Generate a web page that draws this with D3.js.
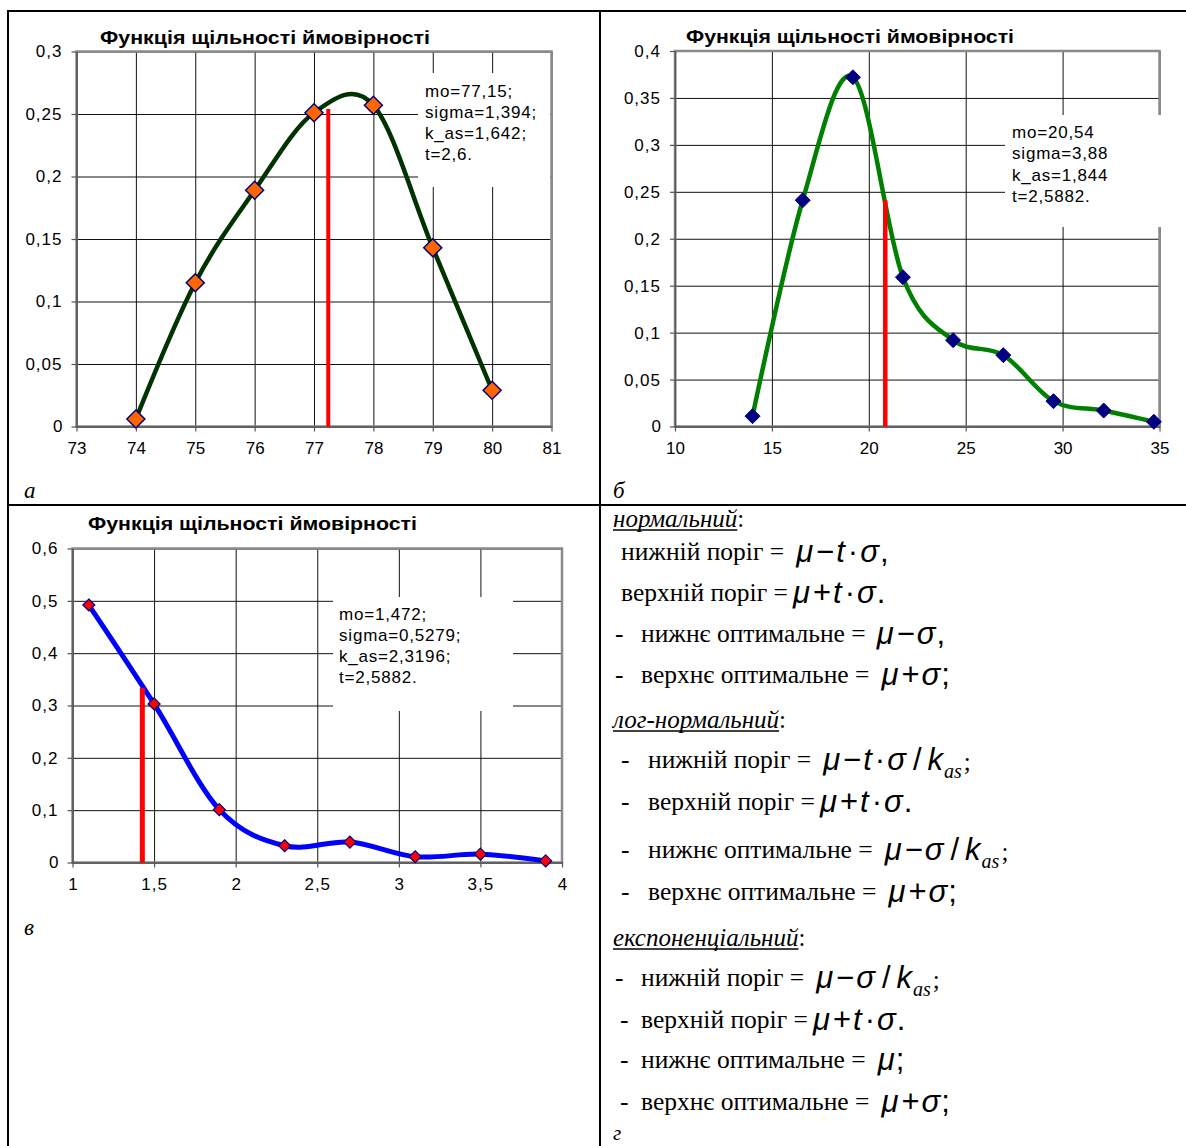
<!DOCTYPE html>
<html><head><meta charset="utf-8">
<script src="https://cdn.jsdelivr.net/npm/d3@7"></script>
<style>
html,body{margin:0;padding:0;background:#fff;}
svg{display:block;}
</style></head><body>
<svg id="c" width="1186" height="1146"></svg>
<script>
// ---------- DATA ----------
const chartTitle = "Функція щільності ймовірності";

// chart а
const aX = [74, 75, 76, 77, 78, 79, 80];
const aY = [0.006, 0.115, 0.189, 0.251, 0.257, 0.143, 0.029];
const aXTicks = [73, 74, 75, 76, 77, 78, 79, 80, 81];
const aYTicks = [0, 0.05, 0.1, 0.15, 0.2, 0.25, 0.3];
const aNote = ["mo=77,15;", "sigma=1,394;", "k_as=1,642;", "t=2,6."];
const aThreshold = {x: 77.24, top: 0.254};

// chart б
const bX = [14.0, 16.59, 19.18, 21.76, 24.35, 26.94, 29.53, 32.12, 34.71];
const bY = [0.011, 0.241, 0.372, 0.159, 0.092, 0.076, 0.027, 0.017, 0.005];
const bXTicks = [10, 15, 20, 25, 30, 35];
const bYTicks = [0, 0.05, 0.1, 0.15, 0.2, 0.25, 0.3, 0.35, 0.4];
const bNote = ["mo=20,54", "sigma=3,88", "k_as=1,844", "t=2,5882."];
const bThreshold = {x: 20.85, top: 0.241};

// chart в
const cX = [1.1, 1.5, 1.9, 2.3, 2.7, 3.1, 3.5, 3.9];
const cY = [0.492, 0.303, 0.101, 0.032, 0.039, 0.011, 0.016, 0.003];
const cXTicks = [1, 1.5, 2, 2.5, 3, 3.5, 4];
const cYTicks = [0, 0.1, 0.2, 0.3, 0.4, 0.5, 0.6];
const cNote = ["mo=1,472;", "sigma=0,5279;", "k_as=2,3196;", "t=2,5882."];
const cThreshold = {x: 1.428, top: 0.334};

const panelLetters = ["а", "б", "в", "г"];

// panel г text
const sectionHeads = ["нормальний", "лог-нормальний", "експоненціальний"];
const ruleLabels = [
  ["нижній поріг =", "верхній поріг =", "нижнє оптимальне =", "верхнє оптимальне ="],
  ["нижній поріг =", "верхній поріг =", "нижнє оптимальне =", "верхнє оптимальне ="],
  ["нижній поріг =", "верхній поріг =", "нижнє оптимальне =", "верхнє оптимальне ="]
];
// formula tokens: [text, kind]  kind: i = italic var, o = operator, d = divide, s = subscript, p/q = punctuation
const ruleFormulas = [
  [
    [["μ","i"],["−","o"],["t","i"],["·","o"],["σ","i"],[",","p"]],
    [["μ","i"],["+","o"],["t","i"],["·","o"],["σ","i"],[".","p"]],
    [["μ","i"],["−","o"],["σ","i"],[",","p"]],
    [["μ","i"],["+","o"],["σ","i"],[";","p"]]
  ],
  [
    [["μ","i"],["−","o"],["t","i"],["·","o"],["σ","i"],["/","d"],["k","k"],["as","s"],[";","q"]],
    [["μ","i"],["+","o"],["t","i"],["·","o"],["σ","i"],[".","p"]],
    [["μ","i"],["−","o"],["σ","i"],["/","d"],["k","k"],["as","s"],[";","q"]],
    [["μ","i"],["+","o"],["σ","i"],[";","p"]]
  ],
  [
    [["μ","i"],["−","o"],["σ","i"],["/","d"],["k","k"],["as","s"],[";","q"]],
    [["μ","i"],["+","o"],["t","i"],["·","o"],["σ","i"],[".","p"]],
    [["μ","i"],[";","p"]],
    [["μ","i"],["+","o"],["σ","i"],[";","p"]]
  ]
];

// ---------- LAYOUT / STYLE ----------
const SANS = "'Liberation Sans', Arial, sans-serif";
const SERIF = "'Liberation Serif', 'Times New Roman', serif";
const svg = d3.select("#c");
const fmt = v => String(Math.round(v * 10000) / 10000).replace(".", ",");

// table lines
const tbl = svg.append("g").attr("stroke", "#000").attr("stroke-width", 2);
tbl.append("line").attr("x1", 8).attr("y1", 11).attr("x2", 1186).attr("y2", 11);
tbl.append("line").attr("x1", 8).attr("y1", 10).attr("x2", 8).attr("y2", 1146);
tbl.append("line").attr("x1", 600).attr("y1", 10).attr("x2", 600).attr("y2", 1146);
tbl.append("line").attr("x1", 8).attr("y1", 505).attr("x2", 1186).attr("y2", 505);

function drawChart(cfg) {
  const p = cfg.plot;
  const x = d3.scaleLinear().domain(cfg.xDomain).range([p.x0, p.x1]);
  const y = d3.scaleLinear().domain(cfg.yDomain).range([p.y1, p.y0]);
  const g = svg.append("g");

  // gridlines via axes
  g.append("g").attr("transform", `translate(0,${p.y1})`)
    .call(d3.axisBottom(x).tickValues(cfg.xTicks).tickSize(-(p.y1 - p.y0)).tickFormat(""))
    .call(s => s.select(".domain").remove())
    .call(s => s.selectAll("line").attr("stroke", "#111").attr("stroke-width", 1));
  g.append("g").attr("transform", `translate(${p.x0},0)`)
    .call(d3.axisLeft(y).tickValues(cfg.yTicks).tickSize(-(p.x1 - p.x0)).tickFormat(""))
    .call(s => s.select(".domain").remove())
    .call(s => s.selectAll("line").attr("stroke", "#111").attr("stroke-width", 1));

  // plot border
  g.append("rect").attr("x", p.x0).attr("y", p.y0).attr("width", p.x1 - p.x0).attr("height", p.y1 - p.y0)
    .attr("fill", "none").attr("stroke", "#8a8a8a").attr("stroke-width", 2.5);

  // annotation box
  const nb = cfg.noteBox;
  g.append("rect").attr("x", nb.x).attr("y", nb.y).attr("width", nb.w).attr("height", nb.h).attr("fill", "#fff");
  g.append("g").selectAll("text").data(cfg.note).join("text")
    .attr("x", nb.tx).attr("y", (d, i) => nb.ty + i * nb.step)
    .attr("font-family", SANS).attr("font-size", 17).attr("letter-spacing", 0.8)
    .attr("fill", "#000").text(d => d);

  // axes with labels
  const styleAxis = s => {
    s.select(".domain").attr("stroke", "#555").attr("stroke-width", 1.5);
    s.selectAll(".tick line").attr("stroke", "#555").attr("stroke-width", 1.2);
    s.attr("font-family", SANS).attr("font-size", 17);
    s.selectAll("text").attr("fill", "#000")
      .attr("letter-spacing", d => fmt(d).includes(",") ? 1 : 0);
  };
  g.append("g").attr("transform", `translate(0,${p.y1})`)
    .call(d3.axisBottom(x).tickValues(cfg.xTicks).tickSize(5).tickSizeOuter(0).tickPadding(10).tickFormat(fmt))
    .call(styleAxis);
  g.append("g").attr("transform", `translate(${p.x0},0)`)
    .call(d3.axisLeft(y).tickValues(cfg.yTicks).tickSize(5).tickSizeOuter(0).tickPadding(9).tickFormat(fmt))
    .call(styleAxis);

  // curve
  const pts = cfg.xs.map((v, i) => [v, cfg.ys[i]]);
  const line = d3.line().x(d => x(d[0])).y(d => y(d[1])).curve(d3.curveCatmullRom.alpha(0));
  g.append("path").datum(pts).attr("d", line).attr("fill", "none")
    .attr("stroke", cfg.lineColor).attr("stroke-width", cfg.lineWidth)
    .attr("stroke-linejoin", "round").attr("stroke-linecap", "round");

  // threshold line
  g.append("line").attr("x1", x(cfg.thr.x)).attr("x2", x(cfg.thr.x))
    .attr("y1", y(0)).attr("y2", y(cfg.thr.top))
    .attr("stroke", "#ff0000").attr("stroke-width", cfg.thrWidth);

  // markers
  const r = cfg.markerR;
  g.append("g").selectAll("path").data(pts).join("path")
    .attr("transform", d => `translate(${x(d[0])},${y(d[1])})`)
    .attr("d", `M0,${-r}L${r},0L0,${r}L${-r},0Z`)
    .attr("fill", cfg.markerFill).attr("stroke", "#000080").attr("stroke-width", cfg.markerStroke);

  // title
  g.append("text").attr("x", cfg.title.x).attr("y", cfg.title.y)
    .attr("font-family", SANS).attr("font-weight", "bold").attr("font-size", 19)
    .attr("textLength", cfg.title.len).attr("lengthAdjust", "spacingAndGlyphs")
    .attr("fill", "#000").text(chartTitle);
}

drawChart({
  plot: {x0: 76.5, x1: 551.5, y0: 51.5, y1: 426.5},
  xDomain: [73, 81], yDomain: [0, 0.3], xTicks: aXTicks, yTicks: aYTicks,
  xs: aX, ys: aY, note: aNote, thr: aThreshold,
  noteBox: {x: 418, y: 73, w: 132, h: 114, tx: 425, ty: 97, step: 21},
  lineColor: "#003300", lineWidth: 4.5, thrWidth: 4,
  markerR: 9, markerFill: "#ff6600", markerStroke: 1.5,
  title: {x: 100, y: 44, len: 330}
});
drawChart({
  plot: {x0: 675, x1: 1159.5, y0: 51, y1: 426.5},
  xDomain: [10, 35], yDomain: [0, 0.4], xTicks: bXTicks, yTicks: bYTicks,
  xs: bX, ys: bY, note: bNote, thr: bThreshold,
  noteBox: {x: 1005, y: 115, w: 158, h: 112, tx: 1012, ty: 138, step: 21.3},
  lineColor: "#008000", lineWidth: 4.5, thrWidth: 4.5,
  markerR: 7.5, markerFill: "#000080", markerStroke: 1,
  title: {x: 686, y: 43, len: 328}
});
drawChart({
  plot: {x0: 72.5, x1: 562, y0: 548.5, y1: 862.5},
  xDomain: [1, 4], yDomain: [0, 0.6], xTicks: cXTicks, yTicks: cYTicks,
  xs: cX, ys: cY, note: cNote, thr: cThreshold,
  noteBox: {x: 333, y: 597, w: 180, h: 114, tx: 339, ty: 620, step: 21},
  lineColor: "#0000ff", lineWidth: 5, thrWidth: 5,
  markerR: 6, markerFill: "#ff0000", markerStroke: 1.2,
  title: {x: 88, y: 530, len: 329}
});

// panel letters
const letterPos = [[24, 498], [613, 498], [24, 935], [613, 1140]];
svg.append("g").selectAll("text").data(panelLetters).join("text")
  .attr("x", (d, i) => letterPos[i][0]).attr("y", (d, i) => letterPos[i][1])
  .attr("font-family", SERIF).attr("font-style", "italic").attr("font-size", (d, i) => i === 3 ? 21 : 23)
  .attr("fill", "#000").text(d => d);

// panel г
const headY = [527, 728, 946];
const lineY = [[560, 601, 642, 683], [768, 810, 858, 900], [986, 1028, 1068, 1110]];
const dashX = [[null, null, 615, 615], [621, 621, 621, 621], [615, 620, 620, 620]];
const textX = [[621, 621, 641, 641], [648, 648, 648, 648], [641, 641, 641, 641]];
const gapAfter = [[10, 3, 9, 10], [10, 3, 10, 10], [10, 3, 10, 10]];
const pg = svg.append("g");

sectionHeads.forEach((h, si) => {
  const t = pg.append("text").attr("x", 613).attr("y", headY[si])
    .attr("font-family", SERIF).attr("font-size", 25).attr("fill", "#000");
  const hs = t.append("tspan").attr("font-style", "italic").text(h);
  t.append("tspan").text(":");
  const w = hs.node().getComputedTextLength();
  pg.append("line").attr("x1", 613).attr("x2", 613 + w)
    .attr("y1", headY[si] + 3).attr("y2", headY[si] + 3)
    .attr("stroke", "#000").attr("stroke-width", 1.3);

  ruleLabels[si].forEach((lbl, li) => {
    const yy = lineY[si][li];
    if (dashX[si][li] !== null) {
      pg.append("text").attr("x", dashX[si][li]).attr("y", yy)
        .attr("font-family", SERIF).attr("font-size", 25.5).attr("fill", "#000").text("-");
    }
    const lt = pg.append("text").attr("x", textX[si][li]).attr("y", yy)
      .attr("font-family", SERIF).attr("font-size", 25.5).attr("fill", "#000").text(lbl);
    const endX = textX[si][li] + lt.node().getComputedTextLength();
    const ft = pg.append("text").attr("x", endX + gapAfter[si][li]).attr("y", yy + 2)
      .attr("font-family", SANS).attr("font-size", 31).attr("fill", "#000");
    ruleFormulas[si][li].forEach(([tok, kind]) => {
      const ts = ft.append("tspan").text(tok);
      if (kind === "i") ts.attr("font-style", "italic").attr("dx", 2);
      if (kind === "k") ts.attr("font-style", "italic").attr("dx", 6);
      if (kind === "o") ts.attr("dx", 3);
      if (kind === "d") ts.attr("dx", 7);
      if (kind === "p") ts.attr("dx", 1);
      if (kind === "s") ts.attr("font-family", SERIF).attr("font-style", "italic").attr("font-size", 20).attr("dy", 8).attr("dx", 1);
      if (kind === "q") ts.attr("font-family", SERIF).attr("font-size", 25).attr("dy", -8).attr("dx", 2);
    });
  });
});
</script>
</body></html>
